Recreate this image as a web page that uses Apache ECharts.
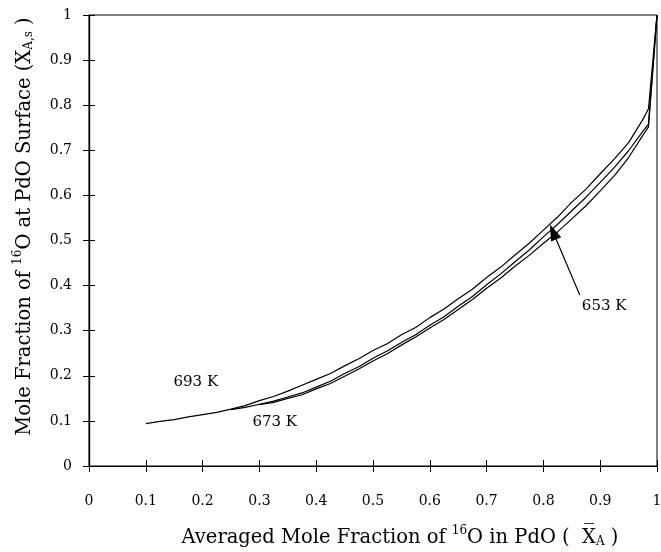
<!DOCTYPE html>
<html>
<head>
<meta charset="utf-8">
<script src="https://cdn.jsdelivr.net/npm/echarts@6/dist/echarts.min.js"></script>
<style>
  html, body { margin: 0; padding: 0; background: #fff; }
  #chart { width: 661px; height: 552px; }
</style>
</head>
<body>
<div id="chart"></div>
<script>
// averaged mole fraction (x) vs surface mole fraction (y)
const x693 = [0.100, 0.125, 0.150, 0.175, 0.200, 0.225, 0.250, 0.275, 0.300, 0.325, 0.350, 0.375, 0.400, 0.425, 0.450, 0.475, 0.500, 0.525, 0.550, 0.575, 0.600, 0.625, 0.650, 0.675, 0.700, 0.725, 0.750, 0.775, 0.800, 0.825, 0.850, 0.875, 0.900, 0.925, 0.950, 0.975, 0.985, 1.000]
const y693 = [0.094, 0.099, 0.103, 0.109, 0.114, 0.119, 0.126, 0.134, 0.145, 0.154, 0.166, 0.179, 0.192, 0.205, 0.222, 0.238, 0.256, 0.271, 0.291, 0.307, 0.329, 0.348, 0.371, 0.392, 0.418, 0.441, 0.468, 0.494, 0.523, 0.552, 0.585, 0.614, 0.648, 0.681, 0.717, 0.768, 0.792, 1.000]

const x673 = [0.250, 0.275, 0.300, 0.325, 0.350, 0.375, 0.400, 0.425, 0.450, 0.475, 0.500, 0.525, 0.550, 0.575, 0.600, 0.625, 0.650, 0.675, 0.700, 0.725, 0.750, 0.775, 0.800, 0.825, 0.850, 0.875, 0.900, 0.925, 0.950, 0.975, 0.985, 1.000]
const y673 = [0.125, 0.130, 0.137, 0.144, 0.153, 0.162, 0.175, 0.188, 0.205, 0.220, 0.239, 0.255, 0.274, 0.291, 0.312, 0.331, 0.354, 0.376, 0.402, 0.426, 0.453, 0.479, 0.508, 0.536, 0.566, 0.596, 0.629, 0.662, 0.699, 0.742, 0.758, 1.000]

const x653 = [0.300, 0.325, 0.350, 0.375, 0.400, 0.425, 0.450, 0.475, 0.500, 0.525, 0.550, 0.575, 0.600, 0.625, 0.650, 0.675, 0.700, 0.725, 0.750, 0.775, 0.800, 0.825, 0.850, 0.875, 0.900, 0.925, 0.950, 0.975, 0.985, 1.000]
const y653 = [0.136, 0.141, 0.150, 0.158, 0.171, 0.183, 0.199, 0.215, 0.233, 0.249, 0.268, 0.286, 0.306, 0.325, 0.347, 0.369, 0.394, 0.417, 0.443, 0.467, 0.494, 0.519, 0.548, 0.577, 0.610, 0.644, 0.684, 0.733, 0.752, 1.000]

const tempLabels = ['693 K', '673 K', '653 K']
const labelPos = [[0.188, 0.186], [0.327, 0.098], [0.907, 0.355]]
const arrowFrom = [0.864, 0.379]
const arrowTo = [0.817, 0.519]

const pair = (xs, ys) => xs.map((v, i) => [v, ys[i]])
const font = 'DejaVu Serif'
const gridBox = { left: 89, right: 4, top: 15, bottom: 86, containLabel: false, outerBoundsMode: 'none' }

const chart = echarts.init(document.getElementById('chart'))

function lineSeries(name, data) {
  return {
    name: name,
    type: 'line',
    data: data,
    showSymbol: false,
    lineStyle: { color: '#000', width: 1.2 },
    z: 3
  }
}

const s693 = lineSeries('693 K', pair(x693, y693))
s693.markPoint = {
  symbol: 'circle',
  symbolSize: 0,
  data: tempLabels.map((t, i) => ({
    coord: labelPos[i],
    label: { show: true, formatter: t, color: '#000', fontFamily: font, fontSize: 15, position: 'inside' }
  }))
}
s693.markLine = {
  silent: true,
  symbol: ['none', 'triangle'],
  symbolSize: [11, 16],
  lineStyle: { color: '#000', width: 1.2, type: 'solid' },
  label: { show: false },
  data: [[{ coord: arrowFrom }, { coord: arrowTo }]]
}

// grid 1 is a copy of grid 0 whose axes carry ticks inside, so ticks cross the axis
const tickX = i => ({
  gridIndex: i, type: 'value', min: 0, max: 1, interval: 0.1, position: 'bottom',
  axisLine: { show: true, onZero: false, lineStyle: { color: '#000', width: 1.2 } },
  axisTick: { show: true, inside: i === 1, length: 6, lineStyle: { color: '#000' } },
  axisLabel: { show: i === 0, margin: 28, color: '#000', fontFamily: font, fontSize: 14 },
  splitLine: { show: false }
})
const tickY = i => ({
  gridIndex: i, type: 'value', min: 0, max: 1, interval: 0.1, position: 'left',
  axisLine: { show: true, onZero: false, lineStyle: { color: '#000', width: 1.2 } },
  axisTick: { show: true, inside: i === 1, length: 6, lineStyle: { color: '#000' } },
  axisLabel: { show: i === 0, margin: 17, color: '#000', fontFamily: font, fontSize: 14 },
  splitLine: { show: false }
})

const richName = {
  a: { fontFamily: font, fontSize: 19.5, color: '#000' },
  sup: { fontFamily: font, fontSize: 12, color: '#000', padding: [0, 0, 13, 0] },
  sub: { fontFamily: font, fontSize: 12, color: '#000', padding: [9, 0, 0, 0] }
}

const xA = tickX(0)
xA.name = '{a|Averaged Mole Fraction of }{sup|16}{a|O in PdO (  }{a|X\u0305}{sub|A}{a| )}'
xA.nameLocation = 'middle'
xA.nameGap = 59
xA.nameTextStyle = { padding: [0, 0, 0, 54], rich: richName }

const yA = tickY(0)
yA.name = '{a|Mole Fraction of }{sup|16}{a|O at PdO Surface (}{a|X}{sub|A,s}{a| )}'
yA.nameLocation = 'middle'
yA.nameGap = 52
yA.nameTextStyle = { padding: [0, 0, 0, 28], rich: richName }

chart.setOption({
  backgroundColor: '#fff',
  animation: false,
  grid: [
    Object.assign({ show: true, borderColor: '#000', borderWidth: 1 }, gridBox),
    Object.assign({ show: false }, gridBox)
  ],
  xAxis: [xA, tickX(1)],
  yAxis: [yA, tickY(1)],
  series: [
    s693,
    lineSeries('673 K', pair(x673, y673)),
    lineSeries('653 K', pair(x653, y653))
  ]
})
</script>
</body>
</html>
